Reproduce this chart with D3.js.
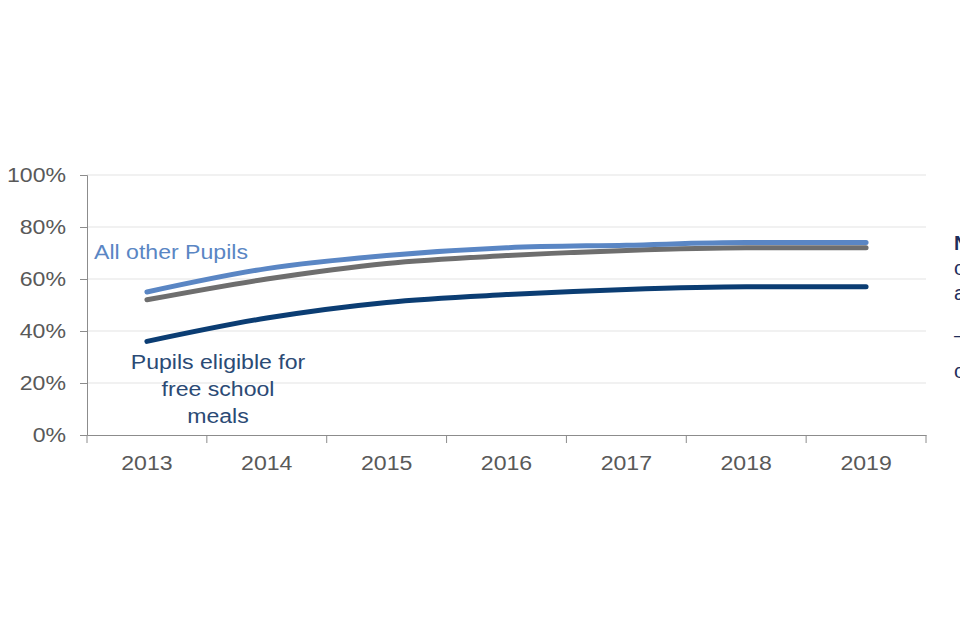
<!DOCTYPE html>
<html><head><meta charset="utf-8">
<script src="https://cdn.jsdelivr.net/npm/d3@7"></script>
<style>html,body{margin:0;padding:0;background:#fff;overflow:hidden}svg{display:block}</style>
</head><body>
<svg id="chart" width="960" height="640"></svg>
<script>
const years = ["2013","2014","2015","2016","2017","2018","2019"];
const allOther = [55, 64, 69, 72, 73, 74, 74];
const allPupils = [52, 60, 66, 69, 71, 72, 72];
const fsm = [36, 45, 51, 54, 56, 57, 57];
const yTicks = [0, 20, 40, 60, 80, 100];

const svg = d3.select("#chart");
const font = "'Liberation Sans', Arial, sans-serif";
const SX = 1.1;
const x = d3.scaleBand().domain(years).range([87, 926]);
const y = d3.scaleLinear().domain([0, 100]).range([435, 175]);

// gridlines
svg.append("g").selectAll("line").data(yTicks.filter(d => d > 0)).join("line")
  .attr("x1", 87).attr("x2", 926)
  .attr("y1", d => y(d)).attr("y2", d => y(d))
  .attr("stroke", "#e3e3e3").attr("stroke-width", 1);

// y axis
const yAxis = svg.append("g").attr("transform", "translate(87,0)")
  .call(d3.axisLeft(y).tickValues(yTicks).tickSize(7).tickFormat(d => d + "%"));
yAxis.select(".domain").attr("stroke", "#8c8c8c");
yAxis.selectAll(".tick line").attr("stroke", "#8c8c8c");
yAxis.selectAll("text").attr("font-family", font).attr("font-size", 21)
  .attr("fill", "#595959").attr("x", -21 / SX).attr("transform", `scale(${SX},1)`);

// x axis
const xAxis = svg.append("g").attr("transform", "translate(0,435)")
  .call(d3.axisBottom(x).tickSize(0).tickSizeOuter(0));
xAxis.select(".domain").attr("stroke", "#8c8c8c");
xAxis.selectAll("text").attr("font-family", font).attr("font-size", 21)
  .attr("fill", "#595959").attr("dy", "0").attr("y", 35).attr("transform", `scale(${SX},1)`);
// band boundary ticks
const bounds = years.map(d => x(d)).concat([x(years[years.length-1]) + x.bandwidth()]);
svg.append("g").selectAll("line").data(bounds).join("line")
  .attr("x1", d => d).attr("x2", d => d).attr("y1", 435).attr("y2", 443)
  .attr("stroke", "#8c8c8c");

const cx = d => x(d) + x.bandwidth() / 2;
const line = d3.line().x((d, i) => cx(years[i])).y(d => y(d)).curve(d3.curveMonotoneX);

[[fsm, "#0b3d73"], [allPupils, "#6e6e6e"], [allOther, "#5a86c4"]].forEach(([vals, col]) => {
  svg.append("path").datum(vals).attr("d", line)
    .attr("fill", "none").attr("stroke", col).attr("stroke-width", 5)
    .attr("stroke-linecap", "round").attr("stroke-linejoin", "round");
});

// labels
svg.append("text").attr("transform", `translate(94,259) scale(${SX},1)`).attr("font-family", font)
  .attr("font-size", 21).attr("fill", "#5a86c4").text("All other Pupils");
const fsmLabel = ["Pupils eligible for", "free school", "meals"];
svg.append("g").selectAll("text").data(fsmLabel).join("text")
  .attr("transform", (d, i) => `translate(218,${369 + i * 27}) scale(${SX},1)`)
  .attr("text-anchor", "middle")
  .attr("font-family", font).attr("font-size", 21).attr("fill", "#2b4a75").text(d => d);

// side note, clipped by the right edge as in the reference
const note = [
  {t: "National", y: 250, w: "bold"},
  {t: "over the", y: 275, w: "normal"},
  {t: "all", y: 300, w: "normal"},
  {t: "– the", y: 342, w: "normal"},
  {t: "over", y: 378, w: "normal"}
];
svg.append("g").selectAll("text").data(note).join("text")
  .attr("x", 954).attr("y", d => d.y).attr("font-family", font)
  .attr("font-size", 20).attr("font-weight", d => d.w)
  .attr("fill", "#1f2d5a").text(d => d.t);
</script>
</body></html>
